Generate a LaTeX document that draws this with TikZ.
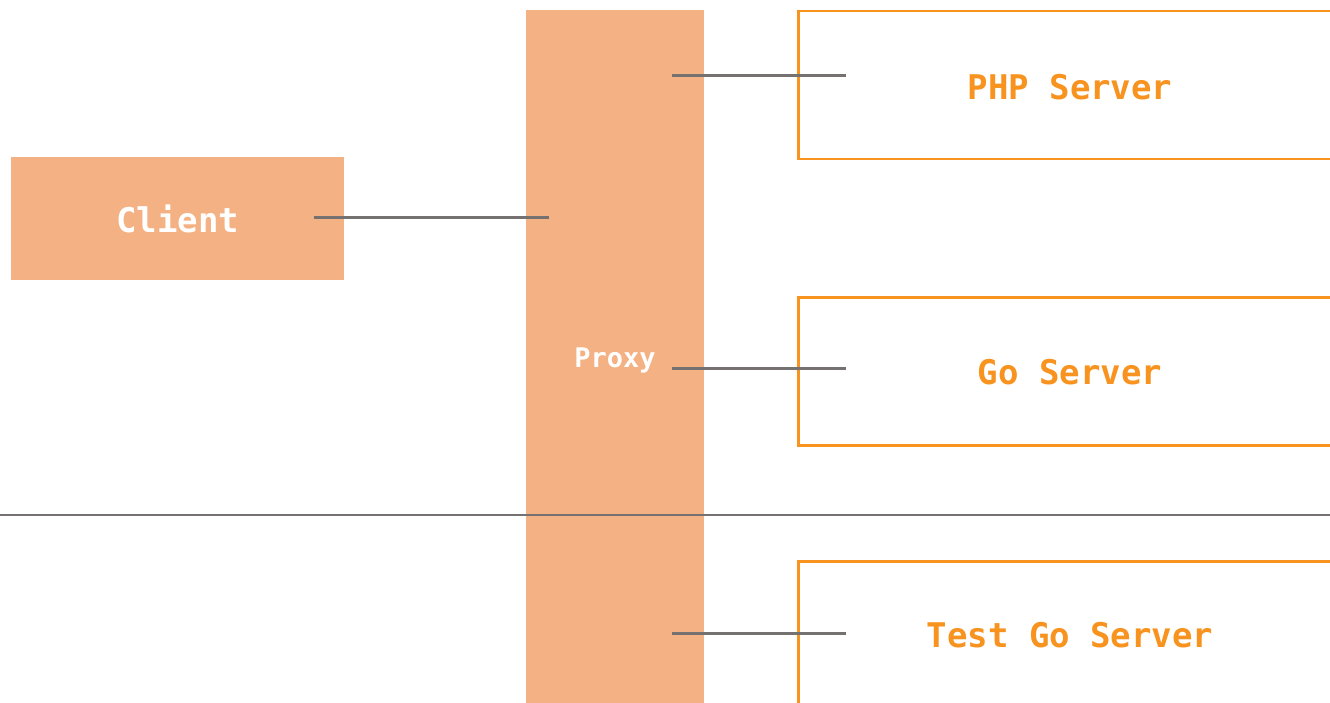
\documentclass[tikz,border=0pt]{standalone}
\usepackage{fontspec}
\newfontfamily\monofam{DejaVu Sans Mono}
\definecolor{boxfill}{HTML}{F4B183}
\definecolor{srvorange}{HTML}{F7931E}
\definecolor{wiregray}{HTML}{767171}
\tikzset{
  solidbox/.style={draw=none, fill=boxfill, inner sep=0pt, anchor=north west},
  serverbox/.style={draw=srvorange, line width=2.5pt, fill=white, inner sep=0pt, anchor=north west,
    minimum width=560pt, minimum height=148pt},
  servertext/.style={text=srvorange, font=\monofam\bfseries\fontsize{34}{40}\selectfont},
  wire/.style={draw=wiregray, line width=3pt},
  divider/.style={draw=wiregray, line width=2pt}
}
\begin{document}
\begin{tikzpicture}[x=1pt,y=-1pt]
  \useasboundingbox (0,0) rectangle (1330,703);
  \clip (0,0) rectangle (1330,703);
  \fill[white] (0,0) rectangle (1330,703);

  % client and proxy blocks
  \node[solidbox, minimum width=333pt, minimum height=123pt,
        text=white, font=\monofam\bfseries\fontsize{34}{40}\selectfont] (client) at (11,157) {Client};
  \node[solidbox, minimum width=178pt, minimum height=700pt] (proxy) at (526,10) {};
  \node[text=white, font=\monofam\bfseries\fontsize{27}{32}\selectfont] (proxylabel) at (615,360) {Proxy};

  % backend servers
  \node[serverbox] (php) at (797,10) {};
  \node[serverbox] (go) at (797,296) {};
  \node[serverbox, minimum height=200pt] (testgo) at (797,560) {};
  \node[servertext] (phptext) at (1070,87) {PHP Server};
  \node[servertext] (gotext) at (1070,372) {Go Server};
  \node[servertext] (testgotext) at (1070,635) {Test Go Server};

  % wire end points
  \coordinate (c1) at (314,218);
  \coordinate (p1) at (549,218);
  \coordinate (p2) at (672,76);
  \coordinate (s2) at (846,76);
  \coordinate (p3) at (672,368);
  \coordinate (s3) at (846,368);
  \coordinate (p4) at (672,633);
  \coordinate (s4) at (846,633);
  \coordinate (dl) at (0,515);
  \coordinate (dr) at (1330,515);

  \draw[wire] (c1) -- (p1);
  \draw[wire] (p2) -- (s2);
  \draw[wire] (p3) -- (s3);
  \draw[wire] (p4) -- (s4);

  % separator between production and test
  \draw[divider] (dl) -- (dr);
\end{tikzpicture}
\end{document}
